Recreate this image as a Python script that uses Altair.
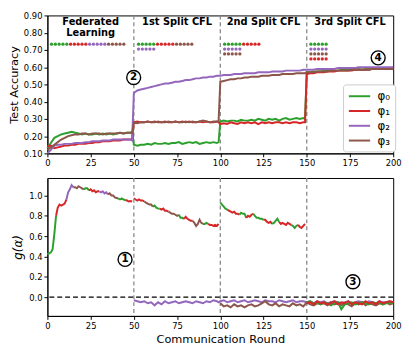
import altair as alt
import pandas as pd

SERIES = ["φ₀", "φ₁", "φ₂", "φ₃"]
COLORS = ["#2ca02c", "#d62728", "#9467bd", "#8c564b"]
X_TICKS = [0, 25, 50, 75, 100, 125, 150, 175, 200]
TOP_Y_TICKS = [0.1, 0.2, 0.3, 0.4, 0.5, 0.6, 0.7, 0.8, 0.9]
BOT_Y_TICKS = [0.0, 0.2, 0.4, 0.6, 0.8, 1.0]
SPLITS = [50, 100, 150]


def block_rounds(start):
    return list(range(start, start + 50, 2)) + [start + 49]


ROUNDS_TOP = block_rounds(0) + block_rounds(50) + block_rounds(100) + list(range(150, 201, 2))

ACC_0 = [0.130, 0.160, 0.190, 0.200, 0.210, 0.215, 0.220, 0.225, 0.220, 0.215, 0.210, 0.215, 0.210,
         0.210, 0.215, 0.210, 0.215, 0.210, 0.215, 0.210, 0.215, 0.220, 0.215, 0.220, 0.220, 0.225,
         0.150, 0.145, 0.150, 0.150, 0.155, 0.150, 0.160, 0.155, 0.155, 0.160, 0.155, 0.160, 0.160,
         0.165, 0.155, 0.160, 0.165, 0.160, 0.165, 0.155, 0.160, 0.165, 0.160, 0.165, 0.160, 0.165,
         0.285, 0.290, 0.285, 0.290, 0.290, 0.285, 0.295, 0.290, 0.290, 0.295, 0.290, 0.300, 0.295,
         0.290, 0.300, 0.295, 0.300, 0.290, 0.300, 0.305, 0.295, 0.300, 0.305, 0.300, 0.305, 0.300,
         0.570, 0.570, 0.575, 0.575, 0.575, 0.580, 0.580, 0.580, 0.580, 0.580, 0.585, 0.585, 0.585,
         0.585, 0.585, 0.590, 0.585, 0.590, 0.590, 0.590, 0.590, 0.590, 0.595, 0.590, 0.595, 0.590]
ACC_1 = [0.140, 0.145, 0.130, 0.135, 0.140, 0.145, 0.145, 0.150, 0.150, 0.155, 0.155, 0.155, 0.160,
         0.160, 0.165, 0.165, 0.170, 0.170, 0.170, 0.175, 0.175, 0.175, 0.180, 0.180, 0.180, 0.180,
         0.280, 0.285, 0.280, 0.280, 0.285, 0.280, 0.285, 0.280, 0.280, 0.285, 0.280, 0.280, 0.285,
         0.280, 0.285, 0.280, 0.285, 0.280, 0.280, 0.285, 0.280, 0.285, 0.280, 0.280, 0.285, 0.280,
         0.270, 0.275, 0.270, 0.280, 0.275, 0.270, 0.280, 0.275, 0.280, 0.275, 0.280, 0.270, 0.280,
         0.275, 0.280, 0.275, 0.280, 0.280, 0.275, 0.280, 0.275, 0.280, 0.280, 0.275, 0.280, 0.280,
         0.560, 0.565, 0.565, 0.570, 0.570, 0.570, 0.575, 0.575, 0.575, 0.580, 0.580, 0.580, 0.580,
         0.580, 0.585, 0.585, 0.585, 0.585, 0.585, 0.590, 0.590, 0.590, 0.590, 0.590, 0.590, 0.590]
ACC_2 = [0.100, 0.120, 0.145, 0.150, 0.150, 0.155, 0.155, 0.155, 0.160, 0.160, 0.160, 0.165, 0.165,
         0.170, 0.170, 0.170, 0.175, 0.175, 0.175, 0.180, 0.180, 0.180, 0.180, 0.180, 0.180, 0.175,
         0.450, 0.465, 0.470, 0.475, 0.480, 0.485, 0.490, 0.495, 0.500, 0.505, 0.505, 0.510, 0.515,
         0.515, 0.520, 0.525, 0.525, 0.530, 0.535, 0.535, 0.540, 0.540, 0.545, 0.545, 0.550, 0.550,
         0.550, 0.555, 0.555, 0.555, 0.560, 0.560, 0.560, 0.565, 0.565, 0.565, 0.565, 0.570, 0.570,
         0.570, 0.570, 0.575, 0.575, 0.575, 0.575, 0.580, 0.580, 0.580, 0.580, 0.580, 0.585, 0.585,
         0.585, 0.585, 0.585, 0.590, 0.590, 0.590, 0.590, 0.590, 0.590, 0.595, 0.595, 0.595, 0.595,
         0.595, 0.595, 0.600, 0.600, 0.600, 0.600, 0.600, 0.600, 0.600, 0.600, 0.600, 0.600, 0.600]
ACC_3 = [0.120, 0.135, 0.150, 0.165, 0.180, 0.190, 0.200, 0.205, 0.210, 0.210, 0.215, 0.215, 0.210,
         0.215, 0.215, 0.215, 0.210, 0.215, 0.215, 0.215, 0.215, 0.220, 0.215, 0.220, 0.220, 0.220,
         0.280, 0.275, 0.280, 0.280, 0.285, 0.280, 0.280, 0.285, 0.280, 0.280, 0.285, 0.280, 0.285,
         0.280, 0.280, 0.285, 0.280, 0.285, 0.280, 0.285, 0.290, 0.285, 0.280, 0.285, 0.285, 0.285,
         0.515, 0.520, 0.525, 0.530, 0.530, 0.535, 0.535, 0.540, 0.540, 0.545, 0.545, 0.545, 0.550,
         0.550, 0.550, 0.555, 0.555, 0.555, 0.560, 0.560, 0.560, 0.560, 0.565, 0.565, 0.565, 0.565,
         0.570, 0.570, 0.570, 0.575, 0.575, 0.575, 0.575, 0.580, 0.580, 0.580, 0.580, 0.580, 0.580,
         0.585, 0.585, 0.585, 0.585, 0.585, 0.585, 0.590, 0.590, 0.590, 0.590, 0.590, 0.590, 0.590]
ACC = [ACC_0, ACC_1, ACC_2, ACC_3]

# g(alpha) of the (still unsplit) upper cluster, one value per round
G_UPPER_A = [0.42, 0.43, 0.44, 0.47, 0.62, 0.80, 0.88, 0.91, 0.90, 0.91,
             0.92, 0.96, 1.03, 1.06, 1.10, 1.08, 1.08, 1.07, 1.09, 1.08,
             1.07, 1.06, 1.07, 1.07, 1.05, 1.06, 1.04, 1.05, 1.03, 1.04,
             1.04, 1.03, 1.04, 1.02, 1.03, 1.01, 1.02, 1.00, 1.00, 0.98,
             0.975, 0.97, 0.96, 0.97, 0.96, 0.955, 0.95, 0.94, 0.945, 0.94]
G_UPPER_B = [0.97, 0.96, 0.95, 0.96, 0.95, 0.95, 0.94, 0.93, 0.92, 0.91,
             0.91, 0.89, 0.90, 0.88, 0.87, 0.87, 0.86, 0.87, 0.85, 0.85,
             0.84, 0.83, 0.82, 0.82, 0.81, 0.80, 0.81, 0.78, 0.78, 0.77,
             0.79, 0.77, 0.76, 0.75, 0.75, 0.73, 0.70, 0.72, 0.76, 0.73,
             0.72, 0.72, 0.73, 0.72, 0.71, 0.71, 0.70, 0.71, 0.70, 0.72]
G_UPPER_C = [0.93, 0.91, 0.89, 0.87, 0.86, 0.85, 0.84, 0.83, 0.84, 0.82,
             0.82, 0.81, 0.83, 0.82, 0.82, 0.78, 0.80, 0.79, 0.81, 0.82,
             0.80, 0.78, 0.78, 0.77, 0.77, 0.76, 0.76, 0.74, 0.73, 0.74,
             0.72, 0.73, 0.75, 0.77, 0.74, 0.72, 0.73, 0.72, 0.71, 0.73,
             0.72, 0.71, 0.70, 0.68, 0.70, 0.71, 0.69, 0.68, 0.70, 0.72]
# (start round, series index) of each coloured piece
BREAKS_A = [(0, 0), (5, 1), (11, 2), (15, 3), (21, 0), (24, 1), (30, 2), (35, 3), (41, 0), (45, 1)]
BREAKS_B = [(50, 1), (56, 3), (61, 0), (65, 1), (70, 3), (76, 0), (79, 1), (84, 3), (90, 0), (93, 1)]
BREAKS_C = [(100, 0), (104, 1), (111, 0), (115, 1), (119, 0), (125, 1), (130, 0), (134, 1), (141, 0), (145, 1)]

# g(alpha) of clusters split off (below zero)
LOW_2 = [-0.03, -0.04, -0.05, -0.04, -0.06, -0.05, -0.08, -0.05, -0.07, -0.04, -0.06, -0.05, -0.04,
         -0.06, -0.05, -0.04, -0.05, -0.06, -0.04, -0.05, -0.06, -0.04, -0.05, -0.03, -0.04, -0.05,
         -0.04, -0.03, -0.05, -0.04, -0.03, -0.05, -0.04, -0.03, -0.05, -0.04,
         -0.03, -0.04, -0.05, -0.03, -0.04, -0.04, -0.05, -0.03, -0.04, -0.05,
         -0.04, -0.03, -0.05, -0.04, -0.04, -0.05, -0.04, -0.06, -0.04, -0.05,
         -0.04, -0.06, -0.05, -0.04, -0.05, -0.06, -0.05, -0.04, -0.06, -0.05,
         -0.04, -0.05, -0.06, -0.04, -0.05, -0.06, -0.04, -0.05, -0.05, -0.04, -0.05]
LOW_3 = [-0.06, -0.09, -0.08, -0.10, -0.07, -0.09, -0.08, -0.10, -0.08, -0.07,
         -0.09, -0.08, -0.06, -0.04, -0.07, -0.08, -0.06, -0.09, -0.07, -0.08,
         -0.09, -0.06, -0.08, -0.07, -0.09, -0.05, -0.07, -0.08, -0.06, -0.07,
         -0.06, -0.08, -0.05, -0.07, -0.06, -0.08, -0.06, -0.07, -0.09, -0.06,
         -0.07, -0.05, -0.08, -0.06, -0.07, -0.08, -0.06, -0.07, -0.05, -0.07, -0.06]
LOW_0 = [-0.05, -0.04, -0.06, -0.05, -0.07, -0.05, -0.06, -0.08, -0.06, -0.05, -0.12, -0.07, -0.06,
         -0.05, -0.07, -0.06, -0.05, -0.06, -0.07, -0.05, -0.06, -0.05, -0.07, -0.06, -0.05, -0.06]
LOW_1 = [-0.06, -0.05, -0.07, -0.04, -0.06, -0.05, -0.07, -0.06, -0.04, -0.07, -0.05, -0.06, -0.04,
         -0.07, -0.05, -0.06, -0.07, -0.04, -0.06, -0.05, -0.07, -0.04, -0.06, -0.05, -0.04, -0.05]
LOW_ROUNDS_2 = block_rounds(50) + list(range(100, 201, 2))
LOW_ROUNDS_3 = list(range(100, 201, 2))
LOW_ROUNDS_01 = list(range(150, 201, 2))

# cluster-membership dots: (first round, accuracy level, series index per dot)
DOT_ROWS = [
    (2.4, 0.733, [0] * 5 + [1] * 5 + [2] * 5 + [3] * 5),
    (52.7, 0.733, [0] * 5 + [1] * 5 + [3] * 5),
    (52.7, 0.705, [2] * 5),
    (102.5, 0.733, [0] * 5 + [1] * 5),
    (102.5, 0.705, [2] * 5),
    (102.5, 0.677, [3] * 5),
    (152.4, 0.733, [0] * 5),
    (152.4, 0.705, [2] * 5),
    (152.4, 0.677, [3] * 5),
    (152.4, 0.648, [1] * 5),
]
DOT_STEP = 2.2

PHASE_TITLES = ["Federated", "Learning", "1st Split CFL", "2nd Split CFL", "3rd Split CFL"]
PHASE_X = [25, 25, 75, 125, 175]
PHASE_Y = [0.862, 0.797, 0.862, 0.862, 0.862]

TOP_MARKS = ["2", "4"]
TOP_MARK_X = [49.9, 191.3]
TOP_MARK_Y = [0.54, 0.654]
BOT_MARKS = ["1", "3"]
BOT_MARK_X = [44.9, 176.7]
BOT_MARK_Y = [0.371, 0.152]

FONT = "DejaVu Sans"

# ---------- tables ----------
top_rows = []
for s, vals in zip(SERIES, ACC):
    for r, v in zip(ROUNDS_TOP, vals):
        top_rows.append({"round": r, "acc": v, "series": s})
df_top = pd.DataFrame(top_rows)

dot_rows = []
for start, lvl, idxs in DOT_ROWS:
    for i, k in enumerate(idxs):
        dot_rows.append({"round": start + i * DOT_STEP, "acc": lvl, "hex": COLORS[k]})
df_dots = pd.DataFrame(dot_rows)

up_rows = []
seg_id = 0
for first, vals, breaks in [(0, G_UPPER_A, BREAKS_A), (50, G_UPPER_B, BREAKS_B), (100, G_UPPER_C, BREAKS_C)]:
    last = first + len(vals) - 1
    for j, (st, k) in enumerate(breaks):
        en = breaks[j + 1][0] if j + 1 < len(breaks) else last
        for r in range(st, en + 1):
            up_rows.append({"round": r, "g": vals[r - first], "seg": seg_id, "hex": COLORS[k]})
        seg_id += 1
df_up = pd.DataFrame(up_rows)

low_rows = []
for k, rounds, vals in [(2, LOW_ROUNDS_2, LOW_2), (3, LOW_ROUNDS_3, LOW_3),
                        (0, LOW_ROUNDS_01, LOW_0), (1, LOW_ROUNDS_01, LOW_1)]:
    for r, v in zip(rounds, vals):
        low_rows.append({"round": r, "g": v, "seg": f"low{k}", "hex": COLORS[k]})
df_low = pd.DataFrame(low_rows)

df_split = pd.DataFrame({"round": SPLITS})
df_titles = pd.DataFrame({"round": PHASE_X, "acc": PHASE_Y, "t": PHASE_TITLES})
df_tm = pd.DataFrame({"round": TOP_MARK_X, "acc": TOP_MARK_Y, "t": TOP_MARKS})
df_bm = pd.DataFrame({"round": BOT_MARK_X, "g": BOT_MARK_Y, "t": BOT_MARKS})

# ---------- scales / axes ----------
xs = alt.Scale(domain=[0, 200], nice=False, zero=False)
x_top = alt.X("round:Q", scale=xs, axis=alt.Axis(values=X_TICKS, tickCount=20, format="d", title=None))
x_bot = alt.X("round:Q", scale=xs, axis=alt.Axis(values=X_TICKS, tickCount=20, format="d",
                                                 title="Communication Round",
                                                 titleFontSize=11.5, titlePadding=4))
y_top = alt.Y("acc:Q", scale=alt.Scale(domain=[0.1, 0.9], nice=False, zero=False),
              axis=alt.Axis(values=TOP_Y_TICKS, tickCount=20, format=".2f", title="Test Accuracy",
                            titleFontSize=11.5, titlePadding=4))
y_bot = alt.Y("g:Q", scale=alt.Scale(domain=[-0.184, 1.171], nice=False, zero=False),
              axis=alt.Axis(values=BOT_Y_TICKS, tickCount=20, format=".1f", title="g(α)",
                            titleFontStyle="italic", titleFontSize=12, titlePadding=4))

W, H = 351, 140

split_rule = alt.Chart(df_split).mark_rule(color="#888888", strokeDash=[4, 3], strokeWidth=1.3).encode(
    x=alt.X("round:Q", scale=xs))

top_lines = alt.Chart(df_top).mark_line(strokeWidth=2).encode(
    x=x_top, y=y_top,
    color=alt.Color("series:N", scale=alt.Scale(domain=SERIES, range=COLORS),
                    legend=alt.Legend(title=None, orient="none", legendX=300, legendY=70,
                                      symbolType="M-1,0H2.6", symbolStrokeWidth=2, symbolSize=144,
                                      labelOffset=16, labelFontSize=12, labelFont=FONT,
                                      rowPadding=2, padding=5, strokeColor="#cccccc",
                                      fillColor="white", cornerRadius=3, labelColor="black")))
top_dots = alt.Chart(df_dots).mark_point(filled=True, size=11, opacity=1).encode(
    x=alt.X("round:Q", scale=xs), y=alt.Y("acc:Q"), color=alt.Color("hex:N", scale=None))
top_titles = alt.Chart(df_titles).mark_text(fontWeight="bold", fontSize=10, font=FONT,
                                             baseline="middle", color="black").encode(
    x=alt.X("round:Q", scale=xs), y=alt.Y("acc:Q"), text="t:N")
top_circ = alt.Chart(df_tm).mark_point(shape="circle", size=200, filled=True, fill="white",
                                       stroke="black", strokeWidth=1.4, opacity=1).encode(
    x=alt.X("round:Q", scale=xs), y=alt.Y("acc:Q"))
top_ctext = alt.Chart(df_tm).mark_text(fontWeight="bold", fontSize=10.5, font=FONT,
                                       baseline="middle", color="black").encode(
    x=alt.X("round:Q", scale=xs), y=alt.Y("acc:Q"), text="t:N")

top = alt.layer(split_rule, top_lines, top_dots, top_titles, top_circ, top_ctext).properties(
    width=W, height=H)

zero_rule = alt.Chart(pd.DataFrame({"g": [0.0]})).mark_rule(
    color="black", strokeDash=[5, 3], strokeWidth=1.3).encode(y=alt.Y("g:Q"))
bot_up = alt.Chart(df_up).mark_line(strokeWidth=2).encode(
    x=x_bot, y=y_bot, detail="seg:N", color=alt.Color("hex:N", scale=None))
bot_low = alt.Chart(df_low).mark_line(strokeWidth=2).encode(
    x=alt.X("round:Q", scale=xs), y=alt.Y("g:Q"), detail="seg:N", color=alt.Color("hex:N", scale=None))
bot_circ = alt.Chart(df_bm).mark_point(shape="circle", size=200, filled=True, fill="white",
                                       stroke="black", strokeWidth=1.4, opacity=1).encode(
    x=alt.X("round:Q", scale=xs), y=alt.Y("g:Q"))
bot_ctext = alt.Chart(df_bm).mark_text(fontWeight="bold", fontSize=10.5, font=FONT,
                                       baseline="middle", color="black").encode(
    x=alt.X("round:Q", scale=xs), y=alt.Y("g:Q"), text="t:N")

bottom = alt.layer(bot_up, split_rule, zero_rule, bot_low, bot_circ, bot_ctext).properties(
    width=W, height=H)

chart = alt.vconcat(top, bottom, spacing=8).resolve_scale(
    color="independent").resolve_legend(color="independent").properties(
    padding={"left": 0, "top": 0, "right": 5, "bottom": 0}
).configure_view(stroke="black", strokeWidth=1).configure_axis(
    grid=False, domainColor="black", tickColor="black", labelColor="black", titleColor="black",
    labelFont=FONT, titleFont=FONT, labelFontSize=8.5, titleFontWeight="normal",
    tickSize=3.5, labelPadding=2, domainWidth=1, tickWidth=1,
    labelOverlap=False, labelFlush=False
)

chart.save("out.html", embed_options={"renderer": "svg", "actions": False})
